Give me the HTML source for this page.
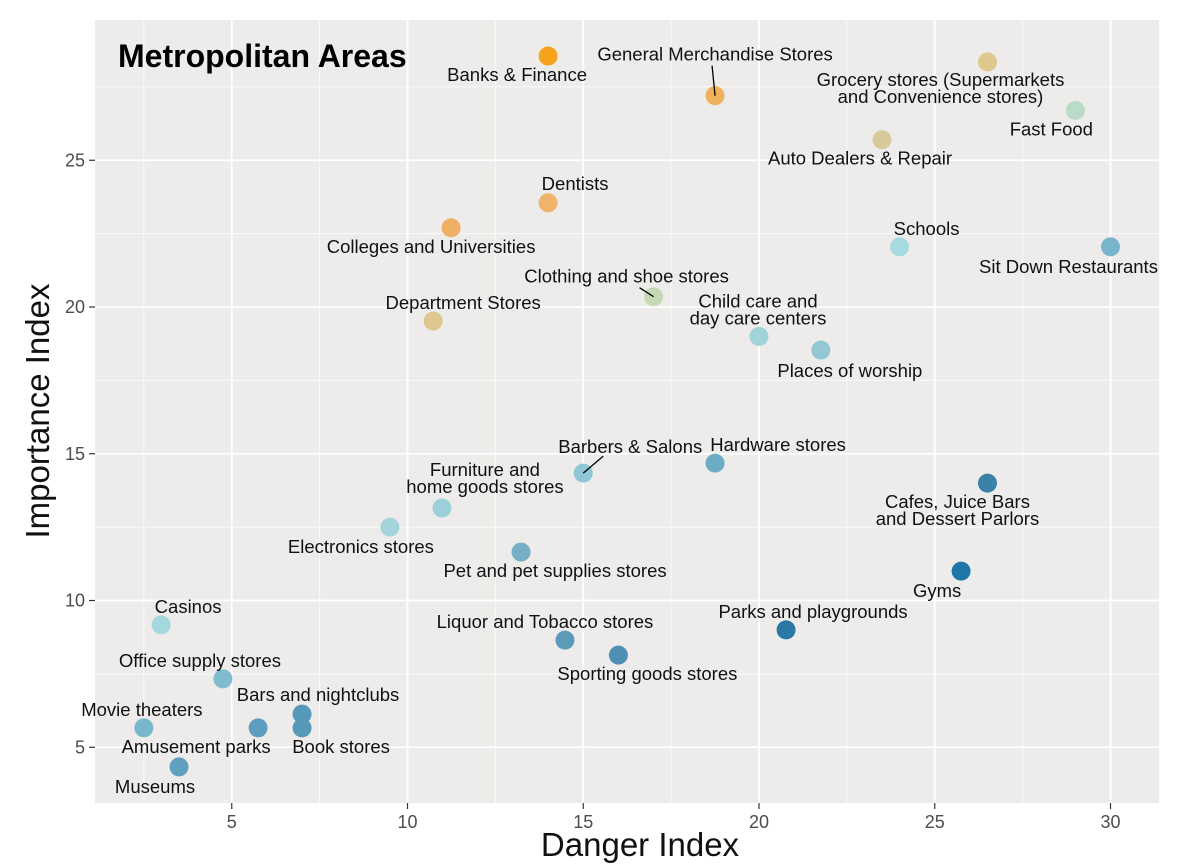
<!DOCTYPE html>
<html><head><meta charset="utf-8"><style>
html,body{margin:0;padding:0;background:#fff;}
svg{display:block;font-family:"Liberation Sans",Arial,sans-serif;}
</style></head><body>
<svg id="chart" width="1200" height="866">
<rect x="95" y="20" width="1064" height="783" fill="#eeecea"/>
<g id="grid"></g><g id="axes"></g><g id="marks"></g><g id="labels"></g>
<text x="118" y="67" font-size="32" font-weight="bold" fill="#000">Metropolitan Areas</text>
<text x="640" y="856" font-size="33" text-anchor="middle" fill="#111">Danger Index</text>
<text transform="translate(49,411) rotate(-90)" font-size="33" text-anchor="middle" fill="#111">Importance Index</text>
</svg>
<script>
const names=["Banks & Finance","General Merchandise Stores","Grocery stores (Supermarkets|and Convenience stores)","Fast Food","Auto Dealers & Repair","Dentists","Colleges and Universities","Schools","Sit Down Restaurants","Clothing and shoe stores","Department Stores","Child care and|day care centers","Places of worship","Barbers & Salons","Hardware stores","Cafes, Juice Bars|and Dessert Parlors","Furniture and|home goods stores","Electronics stores","Pet and pet supplies stores","Gyms","Casinos","Liquor and Tobacco stores","Parks and playgrounds","Sporting goods stores","Office supply stores","Bars and nightclubs","Movie theaters","Amusement parks","Book stores","Museums"];
const danger=[14.0,18.75,26.5,29.0,23.5,14.0,11.24,24.0,30.0,17.0,10.73,20.0,21.76,15.0,18.75,26.5,10.98,9.5,13.23,25.75,2.99,14.48,20.77,16.0,4.75,7.0,2.5,5.75,7.0,3.5];
const importance=[28.55,27.2,28.35,26.7,25.7,23.55,22.7,22.05,22.05,20.35,19.52,19.0,18.53,14.34,14.68,14.0,13.15,12.5,11.65,11.0,9.17,8.65,9.0,8.14,7.33,6.13,5.66,5.66,5.66,4.33];
const colors=["#f5a21c","#efb25a","#dec88f","#b9dbc8","#d8c99a","#efb46a","#eeb064","#a5dbe0","#78b4cc","#c5d9b5","#dfc790","#a0d3da","#92c7d3","#8fc7d6","#6eabc4","#3a82aa","#9bcfd9","#a4d3dc","#77afc7","#1f77a9","#a5d8de","#5b9bb9","#2a78a3","#4e8fb3","#7fbcd0","#5799b9","#79b7cd","#5d9dbd","#5898b9","#609fbe"];
const xTicks=[5,10,15,20,25,30];
const yTicks=[5,10,15,20,25];
// label layout offsets (pixels, not data)
const labelDx=[-31,0,-47,-24,-22,27,-20,27,-42,-27,30,-1,29,47,63,-30,43,-29,34,-24,27,-20,27,29,-23,16,-2,-62,39,-24];
const labelDy=[25,-35,24,25,25,-13,25,-12,26,-14,-12,-29,27,-20,-12,25,-32,26,25,26,-12,-12,-12,25,-12,-13,-12,25,25,26];
const leaders={1:[715,96,712,66],9:[654,297,640,288],13:[583,473,603,456]};
const sx=v=>56+v*35.15, sy=v=>894-v*29.35;
const NS="http://www.w3.org/2000/svg";
function mk(t,a,p){const e=document.createElementNS(NS,t);for(const k in a)e.setAttribute(k,a[k]);p.appendChild(e);return e;}
const grid=document.getElementById('grid'),axes=document.getElementById('axes'),marks=document.getElementById('marks'),labels=document.getElementById('labels');
for(let v=2.5;v<=32.5;v+=5){const x=sx(v);if(x>95&&x<1159){const l=mk('line',{x1:x,x2:x,y1:20,y2:803,stroke:'#fbfaf9','stroke-width':0.9},grid);}}
for(let v=7.5;v<=27.5;v+=5){const y=sy(v);const l=mk('line',{x1:95,x2:1159,y1:y,y2:y,stroke:'#fbfaf9','stroke-width':0.9},grid);}
xTicks.forEach(v=>{const x=sx(v);
const g=mk('line',{x1:x,x2:x,y1:20,y2:803,stroke:'#fff','stroke-width':1.8},grid);
const t=mk('line',{x1:x,x2:x,y1:803,y2:809,stroke:'#333','stroke-width':1.2},axes);
const tx=mk('text',{x:x,y:828,'font-size':18,'text-anchor':'middle',fill:'#4d4d4d'},axes);tx.textContent=v;});
yTicks.forEach(v=>{const y=sy(v);
const g=mk('line',{x1:95,x2:1159,y1:y,y2:y,stroke:'#fff','stroke-width':1.8},grid);
const t=mk('line',{x1:89,x2:95,y1:y,y2:y,stroke:'#333','stroke-width':1.2},axes);
const tx=mk('text',{x:85,y:y+6,'font-size':18,'text-anchor':'end',fill:'#4d4d4d'},axes);tx.textContent=v;});
names.forEach((n,i)=>{const cx=sx(danger[i]),cy=sy(importance[i]);
if(leaders[i]){const L=mk('line',{x1:cx,y1:cy,x2:cx+(leaders[i][2]-leaders[i][0]),y2:cy+(leaders[i][3]-leaders[i][1]),stroke:'#000','stroke-width':1.3},labels);}
const c=mk('circle',{cx:cx,cy:cy,r:9.5,fill:colors[i]},marks);


const lines=n.split('|');
lines.forEach((s,j)=>{const t=mk('text',{x:cx+labelDx[i],y:cy+labelDy[i]+j*17,'font-size':18.5,'text-anchor':'middle',fill:'#111'},labels);t.textContent=s;

});
});
</script>
</body></html>
